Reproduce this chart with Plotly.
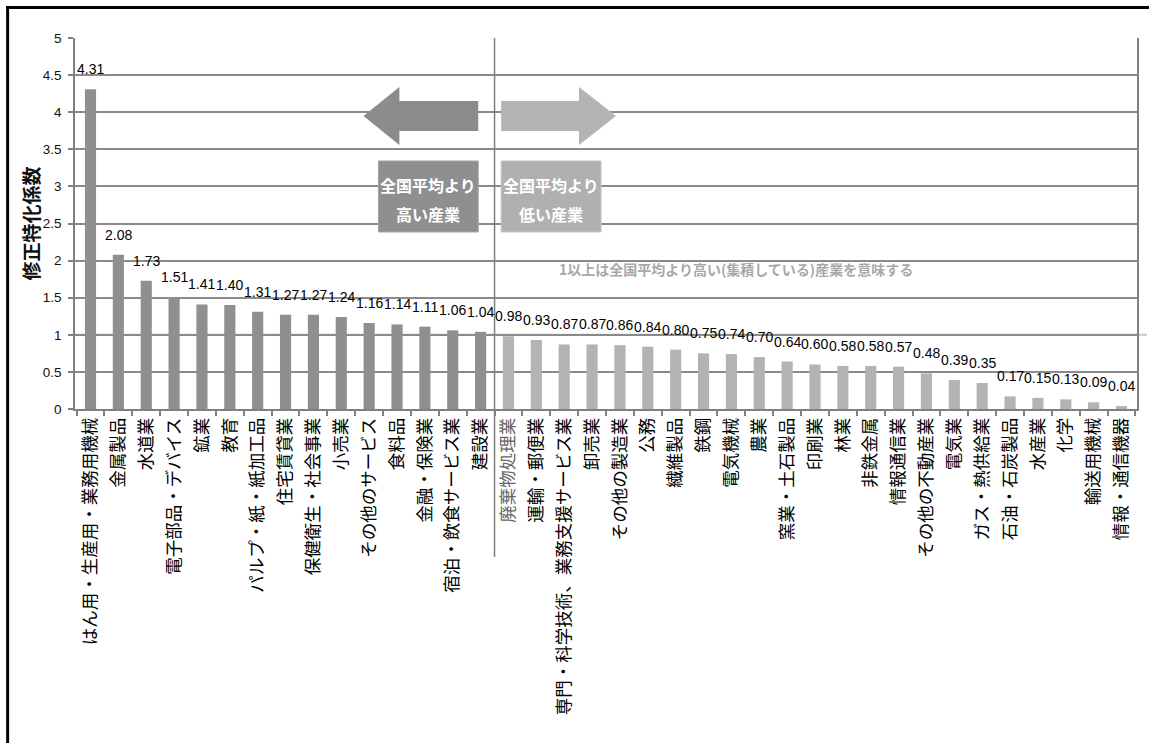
import plotly.graph_objects as go

# Industries ordered by modified specialization coefficient
categories = [
    "はん用・生産用・業務用機械", "金属製品", "水道業", "電子部品・デバイス", "鉱業", "教育",
    "パルプ・紙・紙加工品", "住宅賃貸業", "保健衛生・社会事業", "小売業", "その他のサービス",
    "食料品", "金融・保険業", "宿泊・飲食サービス業", "建設業",
    "廃棄物処理業", "運輸・郵便業", "専門・科学技術、業務支援サービス業", "卸売業",
    "その他の製造業", "公務", "繊維製品", "鉄鋼", "電気機械", "農業", "窯業・土石製品",
    "印刷業", "林業", "非鉄金属", "情報通信業", "その他の不動産業", "電気業",
    "ガス・熱供給業", "石油・石炭製品", "水産業", "化学", "輸送用機械", "情報・通信機器",
]
values = [
    4.31, 2.08, 1.73, 1.51, 1.41, 1.40, 1.31, 1.27, 1.27, 1.24, 1.16, 1.14, 1.11, 1.06, 1.04,
    0.98, 0.93, 0.87, 0.87, 0.86, 0.84, 0.80, 0.75, 0.74, 0.70, 0.64, 0.60, 0.58, 0.58, 0.57,
    0.48, 0.39, 0.35, 0.17, 0.15, 0.13, 0.09, 0.04,
]
n_high = 15  # industries above the national average
y_ticks = [0, 0.5, 1, 1.5, 2, 2.5, 3, 3.5, 4, 4.5, 5]

HIGH_COLOR = "#8f8f8f"
LOW_COLOR = "#b3b3b3"
GRID = "#8a8a8a"
JP = "Noto Sans CJK JP"
NUM = "Liberation Sans"

W, H = 1149, 743
ML, MR, MT, MB = 75, 10, 38, 334
PW, PH = W - ML - MR, H - MT - MB


def px(x):
    return (x - ML) / PW


def py(y):
    return (H - MB - y) / PH


def path(points):
    pts = [f"{px(x):.5f},{py(y):.5f}" for x, y in points]
    return "M " + " L ".join(pts) + " Z"


colors = [HIGH_COLOR if i < n_high else LOW_COLOR for i in range(len(categories))]
ticktext = [
    f'<span style="color:#666666">{c}</span>' if c == "廃棄物処理業" else c
    for c in categories
]

fig = go.Figure(
    go.Bar(
        x=categories,
        y=values,
        marker=dict(color=colors, line=dict(width=0)),
        width=0.4,
        hoverinfo="x+y",
    )
)

annotations = []
for c, v in zip(categories, values):
    annotations.append(dict(
        x=c, y=v, xref="x", yref="y", text=f"{v:.2f}", showarrow=False,
        yshift=20, yanchor="middle", xanchor="center",
        font=dict(family=NUM, size=14, color="#000000"),
    ))

# axis title drawn as rotated text
annotations.append(dict(
    x=px(30), y=0.5, xref="paper", yref="paper", text="<b>修正特化係数</b>",
    showarrow=False, textangle=-90, xanchor="center", yanchor="middle",
    font=dict(family=JP, size=19, color="#111111"),
))

# explanatory boxes
for cx, line1, line2 in [(429, "全国平均より", "高い産業"), (552, "全国平均より", "低い産業")]:
    for ty, txt in [(185, line1), (214, line2)]:
        annotations.append(dict(
            x=px(cx), y=py(ty), xref="paper", yref="paper", text=f"<b>{txt}</b>",
            showarrow=False, xanchor="center", yanchor="middle",
            font=dict(family=JP, size=16, color="#ffffff"),
        ))

annotations.append(dict(
    x=px(737), y=py(269), xref="paper", yref="paper",
    text="<b>1以上は全国平均より高い(集積している)産業を意味する</b>",
    showarrow=False, xanchor="center", yanchor="middle",
    font=dict(family=JP, size=14, color="#a8a8a8"),
))

shapes = [
    # reference line at coefficient 1
    dict(type="line", xref="paper", yref="y", x0=0, x1=px(W), y0=1, y1=1,
         line=dict(color="#c8c8c8", width=2), layer="between"),
    # divider between high and low groups
    dict(type="line", xref="x", yref="paper", x0=n_high - 0.5, x1=n_high - 0.5,
         y0=1, y1=py(557), line=dict(color="#808080", width=1.5), layer="above"),
    # arrows
    dict(type="path", xref="paper", yref="paper", layer="above",
         path=path([(364, 116), (400, 87), (400, 101), (479, 101), (479, 131), (400, 131), (400, 145)]),
         fillcolor="#8c8c8c", line=dict(width=0)),
    dict(type="path", xref="paper", yref="paper", layer="above",
         path=path([(502, 101), (580, 101), (580, 87), (617, 116), (580, 145), (580, 131), (502, 131)]),
         fillcolor="#b4b4b4", line=dict(width=0)),
    # boxes
    dict(type="rect", xref="paper", yref="paper", layer="above",
         x0=px(379), x1=px(479), y0=py(232), y1=py(161),
         fillcolor="#8f8f8f", line=dict(color="#a4a4a4", width=1)),
    dict(type="rect", xref="paper", yref="paper", layer="above",
         x0=px(502), x1=px(602), y0=py(232), y1=py(161),
         fillcolor="#b0b0b0", line=dict(color="#c4c4c4", width=1)),
    # outer frame (left and top)
    dict(type="line", xref="paper", yref="paper", x0=px(7.5), x1=px(7.5),
         y0=py(6), y1=py(H + 5), line=dict(color="#000000", width=3)),
    dict(type="line", xref="paper", yref="paper", x0=px(6), x1=px(W + 5),
         y0=py(7.5), y1=py(7.5), line=dict(color="#000000", width=3)),
]

fig.update_layout(
    width=W, height=H,
    margin=dict(l=ML, r=MR, t=MT, b=MB, pad=0),
    paper_bgcolor="#ffffff", plot_bgcolor="#ffffff",
    showlegend=False,
    bargap=0.6,
    annotations=annotations,
    shapes=shapes,
    xaxis=dict(
        type="category", tickmode="array", tickvals=categories, ticktext=ticktext,
        tickangle=-90, tickson="boundaries", ticks="outside", ticklen=5,
        tickcolor="#808080", tickwidth=1.5, showline=True, linecolor="#808080",
        linewidth=1.5, showgrid=False, zeroline=False,
        tickfont=dict(family=JP, size=17.5, color="#000000"),
    ),
    yaxis=dict(
        range=[0, 5], tickmode="array", tickvals=y_ticks,
        ticktext=[f"{t:g}" for t in y_ticks],
        ticks="outside", ticklen=5, tickcolor="#808080", tickwidth=1.5,
        showline=True, linecolor="#808080", linewidth=1.5, mirror=True,
        showgrid=True, gridcolor=GRID, gridwidth=1.5, zeroline=False,
        tickfont=dict(family=NUM, size=13.5, color="#111111"),
        ticklabelstandoff=4,
    ),
)

fig.write_html("out.html")
